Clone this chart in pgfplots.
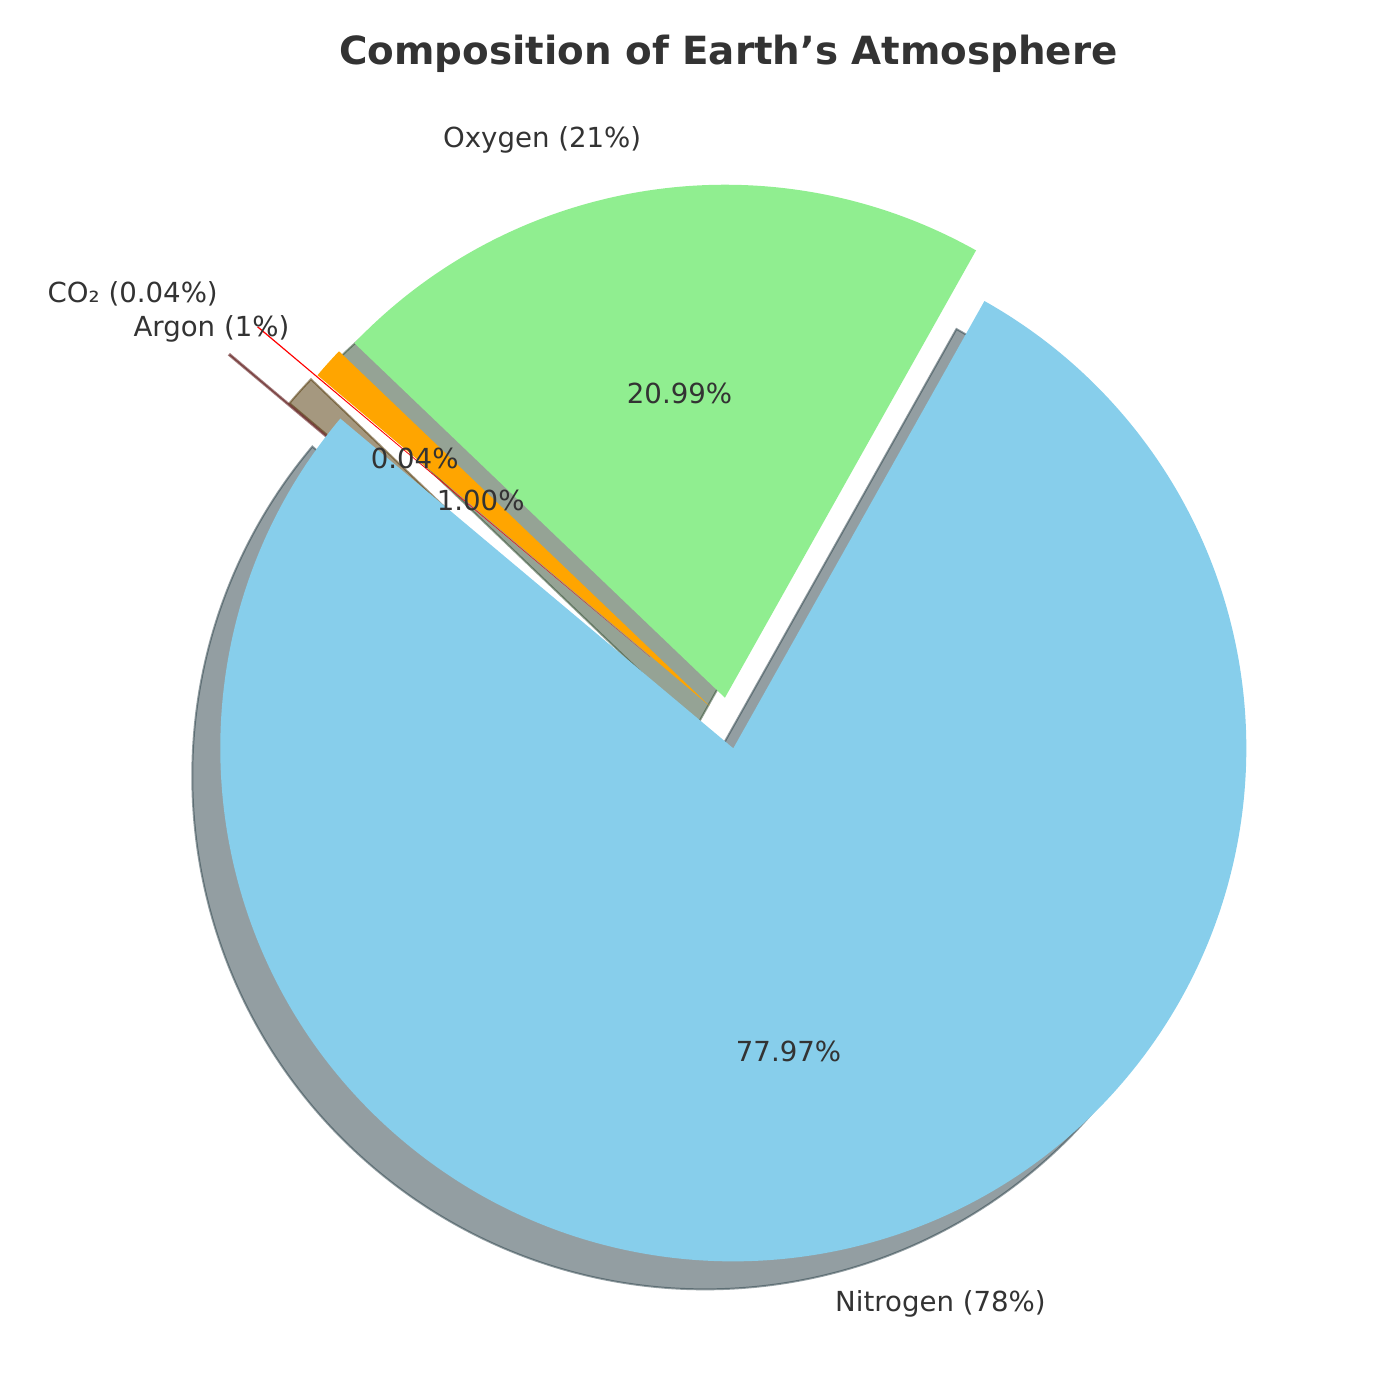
\documentclass[border=0pt]{standalone}
\usepackage{fontspec}
\setmainfont{DejaVu Sans}
\usepackage{pgfplots}
\usepackage{pgfplotstable}
\pgfplotsset{compat=1.18}
\definecolor{txt}{HTML}{333333}
\definecolor{skyblueC}{RGB}{135,206,235}
\definecolor{lightgreenC}{RGB}{144,238,144}
\definecolor{orangeC}{RGB}{255,165,0}
\definecolor{redC}{RGB}{255,0,0}

\pgfplotstableread[col sep=comma]{
name,value,explode,col
Nitrogen,78,0.05,skyblueC
Oxygen,21,0.05,lightgreenC
Argon,1,0.05,orangeC
CO₂,0.04,0.2,redC
}\atmo

\def\Rad{513}
\def\Cx{728.7}
\def\Cy{676.9}
\def\Rlen{184.68bp}
\def\shx{-28}
\def\shy{-28}

\pgfplotstablegetrowsof{\atmo}
\pgfmathtruncatemacro\nrows{\pgfplotsretval-1}
\def\total{0}
\pgfplotsforeachungrouped \i in {0,...,\nrows}{%
  \pgfplotstablegetelem{\i}{value}\of\atmo
  \pgfmathsetmacro\total{\total+\pgfplotsretval}}
\def\cum{140}
\pgfkeys{/pgf/number format/precision=2}
\pgfplotsforeachungrouped \i in {0,...,\nrows}{%
  \pgfplotstablegetelem{\i}{value}\of\atmo \let\vv\pgfplotsretval
  \pgfplotstablegetelem{\i}{explode}\of\atmo \let\ex\pgfplotsretval
  \pgfplotstablegetelem{\i}{name}\of\atmo \let\nm\pgfplotsretval
  \pgfplotstablegetelem{\i}{col}\of\atmo \let\cl\pgfplotsretval
  \pgfmathsetmacro\fr{\vv/\total}
  \pgfmathsetmacro\spanA{360*\fr}
  \pgfmathsetmacro\endA{\cum+\spanA}
  \pgfmathsetmacro\midA{\cum+\spanA/2}
  \pgfmathsetmacro\ax{\Cx+\ex*\Rad*cos(\midA)}
  \pgfmathsetmacro\ay{\Cy+\ex*\Rad*sin(\midA)}
  \pgfmathsetmacro\sx{\ax+\shx}
  \pgfmathsetmacro\sy{\ay+\shy}
  \pgfmathsetmacro\lx{\ax+1.1*\Rad*cos(\midA)}
  \pgfmathsetmacro\ly{\ay+1.1*\Rad*sin(\midA)}
  \pgfmathsetmacro\px{\ax+0.6*\Rad*cos(\midA)}
  \pgfmathsetmacro\py{\ay+0.6*\Rad*sin(\midA)}
  \pgfmathsetmacro\pc{100*\fr}
  \pgfmathroundtozerofill{\pc}\let\pcs\pgfmathresult
  \pgfmathparse{cos(\midA)>0 ? 1 : 0}
  \ifdim\pgfmathresult pt>0.5pt \def\anc{west}\else\def\anc{east}\fi
  \expandafter\xdef\csname pieS\i\endcsname{\cum}
  \expandafter\xdef\csname pieE\i\endcsname{\endA}
  \expandafter\xdef\csname pieAX\i\endcsname{\ax}
  \expandafter\xdef\csname pieAY\i\endcsname{\ay}
  \expandafter\xdef\csname pieSX\i\endcsname{\sx}
  \expandafter\xdef\csname pieSY\i\endcsname{\sy}
  \expandafter\xdef\csname pieLX\i\endcsname{\lx}
  \expandafter\xdef\csname pieLY\i\endcsname{\ly}
  \expandafter\xdef\csname piePX\i\endcsname{\px}
  \expandafter\xdef\csname piePY\i\endcsname{\py}
  \expandafter\xdef\csname piePC\i\endcsname{\pcs}
  \expandafter\xdef\csname pieV\i\endcsname{\vv}
  \expandafter\xdef\csname pieN\i\endcsname{\nm}
  \expandafter\xdef\csname pieC\i\endcsname{\cl}
  \expandafter\xdef\csname pieAnc\i\endcsname{\anc}
  \global\let\cum\endA
}

\begin{document}
\begin{tikzpicture}
\begin{axis}[x=0.36bp, y=0.36bp, xmin=0, xmax=1400, ymin=0, ymax=1400,
  hide axis, clip=false, scale only axis]
  \path (axis cs:0,0) rectangle (axis cs:1400,1400);
  % shadows (below all wedges)
  \pgfplotsinvokeforeach{0,...,3}{%
    \edef\temp{\noexpand\filldraw[fill=\csname pieC#1\endcsname!30!black,
      draw=\csname pieC#1\endcsname!30!black, fill opacity=0.5, draw opacity=0.5,
      line width=0.7bp, line join=miter]
      (axis cs:\csname pieSX#1\endcsname,\csname pieSY#1\endcsname)
      -- ++(\csname pieS#1\endcsname:\Rlen)
      arc[start angle=\csname pieS#1\endcsname, end angle=\csname pieE#1\endcsname, radius=\Rlen]
      -- cycle;}\temp}
  % wedges
  \pgfplotsinvokeforeach{0,...,3}{%
    \edef\temp{\noexpand\fill[fill=\csname pieC#1\endcsname]
      (axis cs:\csname pieAX#1\endcsname,\csname pieAY#1\endcsname)
      -- ++(\csname pieS#1\endcsname:\Rlen)
      arc[start angle=\csname pieS#1\endcsname, end angle=\csname pieE#1\endcsname, radius=\Rlen]
      -- cycle;}\temp}
  % labels
  \pgfplotsinvokeforeach{0,...,3}{%
    \edef\temp{\noexpand\node[anchor=\csname pieAnc#1\endcsname, inner sep=0pt, text=txt,
      font=\noexpand\fontsize{9.94bp}{12bp}\noexpand\selectfont]
      at (axis cs:\csname pieLX#1\endcsname,\csname pieLY#1\endcsname)
      {\csname pieN#1\endcsname\space(\csname pieV#1\endcsname\noexpand\%)};}\temp
    \edef\temp{\noexpand\node[anchor=center, inner sep=0pt, text=txt,
      font=\noexpand\fontsize{9.94bp}{12bp}\noexpand\selectfont]
      at (axis cs:\csname piePX#1\endcsname,\csname piePY#1\endcsname)
      {\csname piePC#1\endcsname\noexpand\%};}\temp}
  \node[anchor=base, inner sep=0pt, text=txt, font=\bfseries\fontsize{13.97bp}{16bp}\selectfont]
    at (axis cs:728.5,1335) {Composition of Earth’s Atmosphere};
\end{axis}
\end{tikzpicture}
\end{document}
